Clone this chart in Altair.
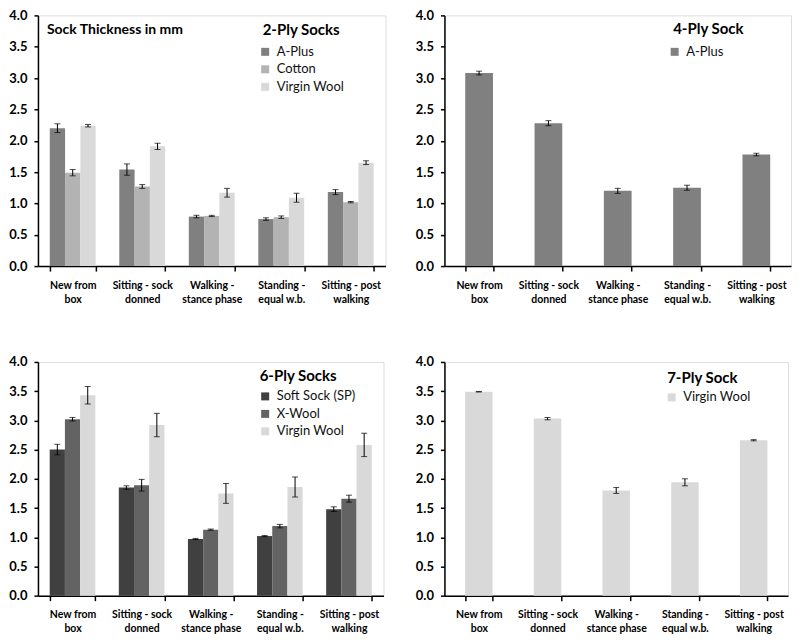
import altair as alt
import pandas as pd

categories = ["New from|box", "Sitting - sock|donned", "Walking -|stance phase",
              "Standing -|equal w.b.", "Sitting - post|walking"]

# 2-Ply socks
ply2_series = ["A-Plus", "Cotton", "Virgin Wool"]
ply2_colors = ["#808080", "#b3b3b3", "#d9d9d9"]
ply2_aplus = [2.20, 1.54, 0.79, 0.75, 1.18]
ply2_aplus_err = [0.07, 0.09, 0.02, 0.02, 0.04]
ply2_cotton = [1.49, 1.27, 0.80, 0.78, 1.02]
ply2_cotton_err = [0.05, 0.03, 0.01, 0.02, 0.01]
ply2_wool = [2.24, 1.91, 1.17, 1.09, 1.65]
ply2_wool_err = [0.02, 0.05, 0.07, 0.07, 0.03]

# 4-Ply sock
ply4_series = ["A-Plus"]
ply4_colors = ["#808080"]
ply4_aplus = [3.08, 2.28, 1.20, 1.25, 1.78]
ply4_aplus_err = [0.03, 0.04, 0.04, 0.04, 0.02]

# 6-Ply socks
ply6_series = ["Soft Sock (SP)", "X-Wool", "Virgin Wool"]
ply6_colors = ["#404040", "#636363", "#d9d9d9"]
ply6_soft = [2.50, 1.85, 0.97, 1.02, 1.48]
ply6_soft_err = [0.09, 0.03, 0.01, 0.01, 0.04]
ply6_xwool = [3.02, 1.89, 1.13, 1.19, 1.66]
ply6_xwool_err = [0.03, 0.10, 0.01, 0.03, 0.06]
ply6_wool = [3.43, 2.92, 1.75, 1.86, 2.58]
ply6_wool_err = [0.15, 0.20, 0.17, 0.17, 0.20]

# 7-Ply sock
ply7_series = ["Virgin Wool"]
ply7_colors = ["#d9d9d9"]
ply7_wool = [3.49, 3.03, 1.80, 1.94, 2.66]
ply7_wool_err = [0.005, 0.02, 0.05, 0.06, 0.01]

panel_titles = ["2-Ply Socks", "4-Ply Sock", "6-Ply Socks", "7-Ply Sock"]
y_ticks = [0.0, 0.5, 1.0, 1.5, 2.0, 2.5, 3.0, 3.5, 4.0]
FONT = "Lato"


def build_df(series_names, values_list, errors_list):
    rows = []
    for s, vals, errs in zip(series_names, values_list, errors_list):
        for c, v, e in zip(categories, vals, errs):
            rows.append({"cat": c, "series": s, "value": v, "lo": v - e, "hi": v + e})
    return pd.DataFrame(rows)


def text_layer(txt, x, y, size):
    return alt.Chart(pd.DataFrame({"t": [txt]})).mark_text(
        align="left", baseline="middle", font=FONT, fontSize=size, fontWeight="bold", color="black"
    ).encode(x=alt.value(x), y=alt.value(y), text="t:N")


def panel(df, series_names, colors, title, width, height, pad_inner, grouped,
          legend_x, legend_y, title_x, title_y, note=None):
    x_axis = alt.Axis(title=None, labelAngle=0, labelExpr="split(datum.label, '|')",
                      labelFont=FONT, labelFontSize=10.5, labelFontWeight="bold", labelColor="black",
                      labelPadding=9, labelLineHeight=14, labelBaseline="top",
                      tickBand="extent", tickSize=5, tickColor="black", tickWidth=1.5,
                      domainColor="black", domainWidth=1.5)
    y_axis = alt.Axis(title=None, values=y_ticks, format=".1f", labelFont=FONT, labelFontSize=13,
                      labelFontWeight="bold", labelColor="black", tickSize=4, tickColor="black",
                      tickWidth=1.5, domainColor="black", domainWidth=1.5, grid=False, labelPadding=7)
    x = alt.X("cat:N", sort=categories,
              scale=alt.Scale(paddingInner=pad_inner, paddingOuter=pad_inner / 2), axis=x_axis)
    extra = {}
    if grouped:
        extra["xOffset"] = alt.XOffset("series:N", sort=series_names,
                                       scale=alt.Scale(domain=series_names, paddingInner=0, paddingOuter=0))
    yscale = alt.Scale(domain=[0, 4], nice=False)
    bars = alt.Chart(df).mark_bar().encode(
        x=x,
        y=alt.Y("value:Q", scale=yscale, axis=y_axis),
        color=alt.Color("series:N", sort=series_names,
                        scale=alt.Scale(domain=series_names, range=colors),
                        legend=alt.Legend(title=None, orient="none", legendX=legend_x, legendY=legend_y,
                                          labelFont=FONT, labelFontSize=13, padding=0,
                                          labelColor="#111111", symbolType="square", symbolSize=64,
                                          symbolStrokeWidth=0, rowPadding=3.5, labelOffset=5)),
        **extra,
    )
    rule = alt.Chart(df).mark_rule(color="black", strokeWidth=1).encode(
        x=x, y=alt.Y("lo:Q", scale=yscale, axis=y_axis), y2="hi:Q", **extra)
    cap_lo = alt.Chart(df).mark_tick(color="black", size=6, thickness=1).encode(
        x=x, y=alt.Y("lo:Q", scale=yscale, axis=y_axis), **extra)
    cap_hi = alt.Chart(df).mark_tick(color="black", size=6, thickness=1).encode(
        x=x, y=alt.Y("hi:Q", scale=yscale, axis=y_axis), **extra)
    layers = [bars, rule, cap_lo, cap_hi, text_layer(title, title_x, title_y, 15)]
    if note:
        layers.append(text_layer(note, 9, 15, 14))
    return alt.layer(*layers).properties(width=width, height=height)


df2 = build_df(ply2_series, [ply2_aplus, ply2_cotton, ply2_wool],
               [ply2_aplus_err, ply2_cotton_err, ply2_wool_err])
df4 = build_df(ply4_series, [ply4_aplus], [ply4_aplus_err])
df6 = build_df(ply6_series, [ply6_soft, ply6_xwool, ply6_wool],
               [ply6_soft_err, ply6_xwool_err, ply6_wool_err])
df7 = build_df(ply7_series, [ply7_wool], [ply7_wool_err])

p1 = panel(df2, ply2_series, ply2_colors, panel_titles[0], 348, 251, 0.34, True, 221, 30, 225, 15,
           note="Sock Thickness in mm")
p2 = panel(df4, ply4_series, ply4_colors, panel_titles[1], 347, 251, 0.6, False, 224, 30, 229, 14)
p3 = panel(df6, ply6_series, ply6_colors, panel_titles[2], 346, 234, 0.34, True, 221, 28, 222, 14)
p4 = panel(df7, ply7_series, ply7_colors, panel_titles[3], 344, 234, 0.6, False, 221, 29, 223, 16)

ind = dict(color="independent", xOffset="independent", x="independent", y="independent")
row1 = alt.hconcat(p1, p2, spacing=28).resolve_scale(**ind)
row2 = alt.hconcat(p3, p4, spacing=30).resolve_scale(**ind)

chart = alt.vconcat(row1, row2, spacing=50).resolve_scale(**ind).properties(
    padding={"left": 0, "top": 0, "right": 0, "bottom": 0}
).configure_view(stroke="black", strokeWidth=1.5).configure(background="white")

chart.save("out.html", embed_options={"renderer": "svg", "actions": False})
